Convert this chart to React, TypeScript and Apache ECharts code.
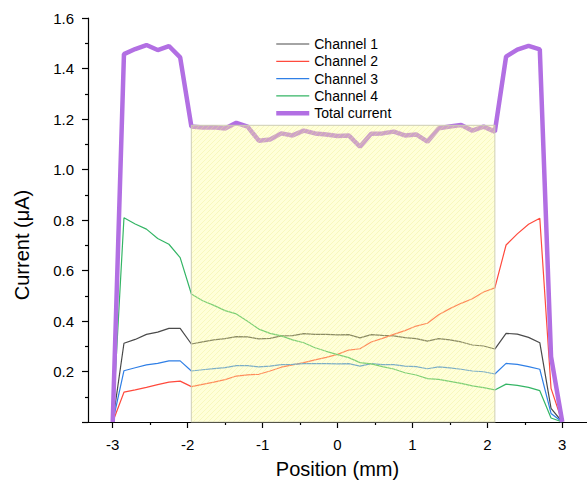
import React, { useEffect, useRef } from 'react';
import * as echarts from 'echarts';

const FONT = '"Liberation Sans", Arial, Helvetica, sans-serif';

const positions = [
  -3, -2.85, -2.7, -2.55, -2.4, -2.25, -2.1, -1.95, -1.8, -1.65, -1.5, -1.35, -1.2, -1.05,
  -0.9, -0.75, -0.6, -0.45, -0.3, -0.15, 0, 0.15, 0.3, 0.45, 0.6, 0.75, 0.9, 1.05, 1.2, 1.35,
  1.5, 1.65, 1.8, 1.95, 2.1, 2.25, 2.4, 2.55, 2.7, 2.85, 3,
];

const channel1 = [
  0, 0.312, 0.327, 0.347, 0.356, 0.371, 0.371, 0.309, 0.317, 0.325, 0.33, 0.338, 0.337, 0.329,
  0.331, 0.341, 0.342, 0.35, 0.347, 0.347, 0.345, 0.346, 0.333, 0.346, 0.343, 0.341, 0.334, 0.33,
  0.32, 0.33, 0.325, 0.317, 0.305, 0.301, 0.289, 0.351, 0.348, 0.335, 0.314, 0.054, 0,
];

const channel2 = [
  0, 0.118, 0.127, 0.137, 0.148, 0.158, 0.162, 0.14, 0.149, 0.158, 0.168, 0.182, 0.187, 0.189,
  0.202, 0.217, 0.226, 0.235, 0.246, 0.256, 0.268, 0.285, 0.29, 0.317, 0.331, 0.347, 0.362, 0.38,
  0.391, 0.425, 0.449, 0.47, 0.488, 0.515, 0.531, 0.701, 0.745, 0.783, 0.807, 0.133, 0,
];

const channel3 = [
  0, 0.203, 0.215, 0.226, 0.232, 0.242, 0.242, 0.202, 0.207, 0.211, 0.215, 0.223, 0.223, 0.218,
  0.221, 0.227, 0.228, 0.231, 0.231, 0.231, 0.23, 0.231, 0.221, 0.231, 0.227, 0.227, 0.221, 0.219,
  0.211, 0.218, 0.214, 0.209, 0.202, 0.199, 0.19, 0.232, 0.228, 0.219, 0.209, 0.034, 0,
];

const channel4 = [
  0, 0.809, 0.784, 0.764, 0.727, 0.704, 0.651, 0.507, 0.48, 0.462, 0.441, 0.428, 0.399, 0.368,
  0.351, 0.341, 0.325, 0.314, 0.294, 0.28, 0.267, 0.255, 0.235, 0.23, 0.219, 0.21, 0.195, 0.186,
  0.172, 0.169, 0.161, 0.153, 0.143, 0.136, 0.127, 0.15, 0.145, 0.137, 0.124, 0.016, 0,
];

const totalCurrent = [
  0, 1.457, 1.477, 1.493, 1.473, 1.489, 1.444, 1.17, 1.166, 1.167, 1.162, 1.185, 1.17, 1.114,
  1.119, 1.143, 1.135, 1.154, 1.143, 1.139, 1.133, 1.135, 1.09, 1.142, 1.143, 1.15, 1.135, 1.139,
  1.11, 1.163, 1.17, 1.176, 1.154, 1.17, 1.15, 1.447, 1.475, 1.49, 1.476, 0.259, 0,
];

const seriesNames = ['Channel 1', 'Channel 2', 'Channel 3', 'Channel 4', 'Total current'];
const seriesColors = ['#4a4a4a', '#ff4a3d', '#2f7fe6', '#34b565', '#b26fe3'];
const seriesWidths = [1.2, 1.2, 1.2, 1.2, 4.5];

const xTickValues = [-3, -2, -1, 0, 1, 2, 3];
const xMinorTickValues = [-2.5, -1.5, -0.5, 0.5, 1.5, 2.5];
const shadedStart = -1.95;
const shadedEnd = 2.1;
const shadedTop = 1.175;

function makeHatch(): HTMLCanvasElement {
  const c = document.createElement('canvas');
  c.width = 5;
  c.height = 5;
  const ctx = c.getContext('2d')!;
  ctx.fillStyle = 'rgba(255,255,150,0.36)';
  ctx.fillRect(0, 0, 5, 5);
  ctx.strokeStyle = 'rgba(235,235,140,0.35)';
  ctx.lineWidth = 1;
  ctx.beginPath();
  ctx.moveTo(0, 5);
  ctx.lineTo(5, 0);
  ctx.moveTo(-1, 1);
  ctx.lineTo(1, -1);
  ctx.moveTo(4, 6);
  ctx.lineTo(6, 4);
  ctx.stroke();
  return c;
}

export default function App() {
  const ref = useRef<HTMLDivElement>(null);

  useEffect(() => {
    if (!ref.current) return;
    const chart = echarts.init(ref.current, undefined, { renderer: 'svg' });
    const axisLineStyle = { color: '#000', width: 1.2 };
    const channels = [channel1, channel2, channel3, channel4, totalCurrent];

    const series: any[] = channels.map((vals, i) => ({
      name: seriesNames[i],
      type: 'line',
      data: positions.map((p, j) => [p, vals[j]]),
      symbol: 'none',
      showSymbol: false,
      z: i === 4 ? 3 : 2,
      lineStyle: { color: seriesColors[i], width: seriesWidths[i] },
      itemStyle: { color: seriesColors[i] },
      xAxisIndex: 0,
      yAxisIndex: 0,
    }));

    series[4].markArea = {
      silent: true,
      z: 4,
      itemStyle: {
        color: { image: makeHatch(), repeat: 'repeat' },
        borderColor: 'rgba(205,205,180,0.8)',
        borderWidth: 1.2,
      },
      data: [[{ xAxis: shadedStart, yAxis: 0 }, { xAxis: shadedEnd, yAxis: shadedTop }]],
    };

    const option: any = {
      animation: false,
      backgroundColor: '#ffffff',
      textStyle: { fontFamily: FONT },
      grid: { left: 88, top: 18, width: 504, height: 404, containLabel: false },
      legend: {
        data: seriesNames.map((n, i) => ({
          name: n,
          lineStyle: { width: seriesWidths[i], color: seriesColors[i] },
        })),
        orient: 'vertical',
        left: 269,
        top: 32,
        itemWidth: 33,
        itemHeight: 14,
        itemGap: 3.3,
        itemStyle: { opacity: 0 },
        textStyle: { fontSize: 14, color: '#000', fontFamily: FONT },
      },
      xAxis: [
        {
          type: 'value',
          min: -3.33,
          max: 3.33,
          position: 'bottom',
          axisLine: { show: true, onZero: false, lineStyle: axisLineStyle },
          axisTick: { show: true, inside: false, length: 6, customValues: xTickValues, lineStyle: axisLineStyle },
          axisLabel: {
            customValues: xTickValues,
            margin: 15,
            fontSize: 15,
            color: '#000',
            fontFamily: FONT,
            formatter: (v: number) => String(v),
          },
          splitLine: { show: false },
          name: 'Position (mm)',
          nameLocation: 'middle',
          nameGap: 37,
          nameTextStyle: { fontSize: 20, color: '#000', fontFamily: FONT },
        },
        {
          type: 'value',
          min: -3.33,
          max: 3.33,
          position: 'bottom',
          gridIndex: 0,
          axisLine: { show: false, onZero: false },
          axisTick: { show: true, inside: false, length: 3, customValues: xMinorTickValues, lineStyle: axisLineStyle },
          axisLabel: { show: false },
          splitLine: { show: false },
        },
      ],
      yAxis: {
        type: 'value',
        min: 0,
        max: 1.6,
        interval: 0.2,
        axisLine: { show: true, onZero: false, lineStyle: axisLineStyle },
        axisTick: { show: true, inside: false, length: 6, lineStyle: axisLineStyle },
        minorTick: { show: true, splitNumber: 2, length: 3, lineStyle: axisLineStyle },
        minorSplitLine: { show: false },
        splitLine: { show: false },
        axisLabel: {
          margin: 14,
          fontSize: 15,
          color: '#000',
          fontFamily: FONT,
          formatter: (v: number) => (v === 0 ? '' : v.toFixed(1)),
        },
      },
      graphic: [
        {
          type: 'text',
          x: 22,
          y: 245,
          rotation: Math.PI / 2,
          style: {
            text: 'Current (μA)',
            fontSize: 20,
            fontFamily: FONT,
            fill: '#000',
            align: 'center',
            verticalAlign: 'middle',
            textAlign: 'center',
            textVerticalAlign: 'middle',
          },
        },
      ],
      series,
    };

    chart.setOption(option);
    return () => chart.dispose();
  }, []);

  return <div ref={ref} style={{ width: 587, height: 484, position: 'absolute', left: 0, top: 0 }} />;
}
